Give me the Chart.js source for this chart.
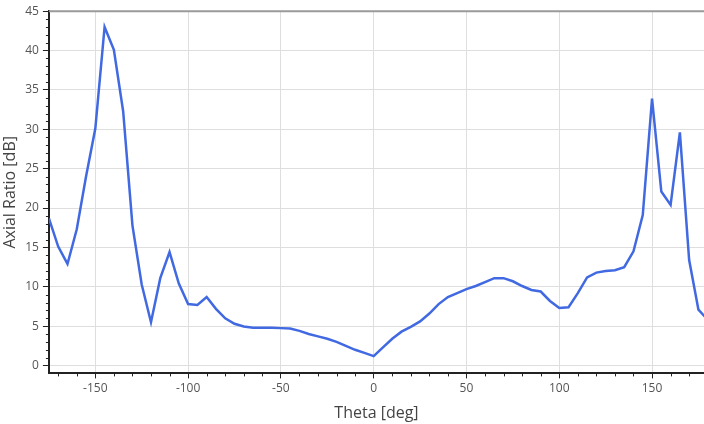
<!DOCTYPE html>
<html>
<head>
<meta charset="utf-8">
<script src="https://cdn.jsdelivr.net/npm/chart.js@4/dist/chart.umd.min.js"></script>
<style>
  html, body { margin: 0; padding: 0; background: #fff; }
  #wrap { width: 704px; height: 424px; }
</style>
</head>
<body>
<div id="wrap"><canvas id="chart"></canvas></div>
<script>
// theta in degrees, axial ratio in dB
const theta = [
    -175, -170, -165, -160, -155, -150, -145, -140, -135, -130,
    -125, -120, -115, -110, -105, -100, -95, -90, -85, -80,
    -75, -70, -65, -60, -55, -50, -45, -40, -35, -30,
    -25, -20, -15, -10, -5, 0, 5, 10, 15, 20,
    25, 30, 35, 40, 45, 50, 55, 60, 65, 70,
    75, 80, 85, 90, 95, 100, 105, 110, 115, 120,
    125, 130, 135, 140, 145, 150, 155, 160, 165, 170,
    175, 180
];
const axialRatio = [
    18.7, 15.1, 12.9, 17.3, 24.0, 30.1, 43.0, 40.1, 32.3, 17.8,
    10.3, 5.5, 11.1, 14.4, 10.4, 7.8, 7.7, 8.7, 7.2, 6.0,
    5.3, 4.95, 4.8, 4.8, 4.8, 4.75, 4.7, 4.4, 4.0, 3.7,
    3.4, 3.0, 2.5, 2.0, 1.6, 1.2, 2.3, 3.4, 4.3, 4.9,
    5.6, 6.6, 7.8, 8.7, 9.2, 9.7, 10.1, 10.6, 11.1, 11.1,
    10.7, 10.1, 9.6, 9.4, 8.2, 7.3, 7.4, 9.2, 11.2, 11.8,
    12.0, 12.1, 12.5, 14.5, 19.1, 33.9, 22.1, 20.4, 29.6, 13.4,
    7.1, 5.8
];
const xTicks = [-150, -100, -50, 0, 50, 100, 150];
const yTicks = [0, 5, 10, 15, 20, 25, 30, 35, 40, 45];

const points = theta.map((t, i) => ({ x: t, y: axialRatio[i] }));

// small ticks between the labelled ones, plus the grey top border
const minorTicks = {
    id: 'minorTicks',
    afterDraw(chart) {
        const ctx = chart.ctx;
        const xs = chart.scales.x;
        const ys = chart.scales.y;
        const area = chart.chartArea;
        ctx.save();
        ctx.strokeStyle = '#222';
        ctx.lineWidth = 1;
        ctx.beginPath();
        for (let v = -170; v <= 170; v += 10) {
            if (v % 50 === 0) continue;
            const px = Math.round(xs.getPixelForValue(v)) + 0.5;
            ctx.moveTo(px, area.bottom);
            ctx.lineTo(px, area.bottom + 3);
        }
        for (let v = 0; v <= 45; v += 1) {
            if (v % 5 === 0) continue;
            const py = Math.round(ys.getPixelForValue(v)) + 0.5;
            ctx.moveTo(area.left - 3, py);
            ctx.lineTo(area.left, py);
        }
        ctx.stroke();
        ctx.strokeStyle = '#9a9a9a';
        ctx.lineWidth = 2;
        ctx.beginPath();
        ctx.moveTo(area.left, area.top);
        ctx.lineTo(area.right, area.top);
        ctx.stroke();
        ctx.restore();
    }
};

const tickFont = { family: 'Open Sans', size: 12 };
const titleFont = { family: 'Open Sans', size: 16 };

new Chart(document.getElementById('chart'), {
    type: 'line',
    data: {
        datasets: [{
            data: points,
            borderColor: '#4169e1',
            borderWidth: 2.5,
            pointRadius: 0,
            tension: 0,
            fill: false
        }]
    },
    options: {
        responsive: true,
        maintainAspectRatio: false,
        animation: false,
        layout: { padding: { top: 9, right: 0, bottom: 1, left: 1 } },
        plugins: {
            legend: { display: false },
            tooltip: { enabled: false }
        },
        scales: {
            x: {
                type: 'linear',
                min: -175,
                max: 178,
                afterBuildTicks: (s) => { s.ticks = xTicks.map(v => ({ value: v })); },
                grid: { color: '#dedede', tickColor: '#222', tickLength: 5 },
                border: { color: '#222', width: 2 },
                ticks: { color: '#555', font: tickFont, padding: 3, maxRotation: 0 },
                title: { display: true, text: 'Theta [deg]', color: '#444', font: titleFont, padding: { top: 5, bottom: 0 } }
            },
            y: {
                min: -1,
                max: 45,
                afterBuildTicks: (s) => { s.ticks = yTicks.map(v => ({ value: v })); },
                grid: { color: '#dedede', tickColor: '#222', tickLength: 6 },
                border: { color: '#222', width: 2 },
                ticks: { color: '#555', font: tickFont, padding: 4 },
                title: { display: true, text: 'Axial Ratio [dB]', color: '#444', font: titleFont, padding: { top: 0, bottom: 1 } }
            }
        }
    },
    plugins: [minorTicks]
});
</script>
</body>
</html>
